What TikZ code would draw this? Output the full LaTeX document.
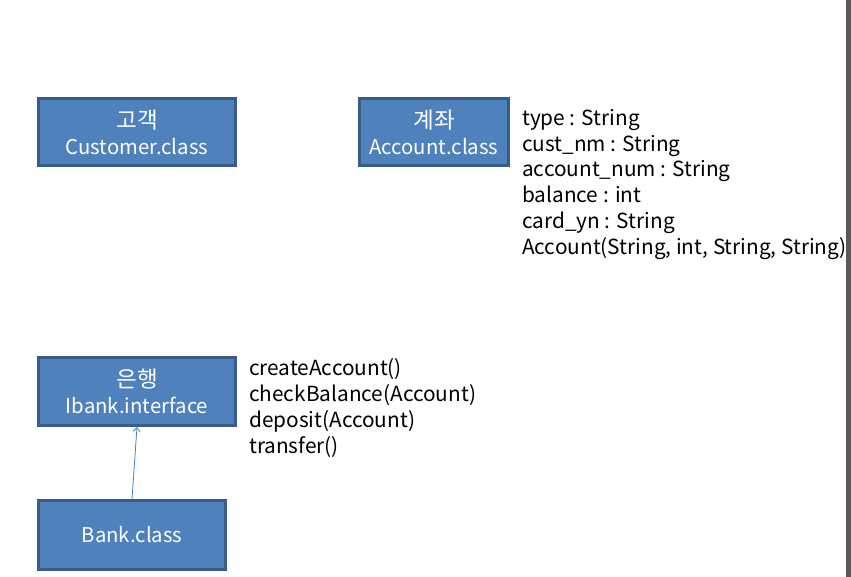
\documentclass[tikz,border=0pt]{standalone}
\usepackage{fontspec}
\setmainfont{Noto Sans CJK KR}
\usetikzlibrary{arrows.meta}
\definecolor{boxfill}{HTML}{4F81BD}
\definecolor{boxline}{HTML}{385D8A}
\definecolor{arrowcol}{HTML}{4A7EBB}
\definecolor{edgebar}{HTML}{595959}
\newcommand{\kortitle}[1]{{\fontsize{22.5}{26}\selectfont #1}}
\begin{document}
\begin{tikzpicture}[x=1pt,y=-1pt,
  umlbox/.style={draw=boxline, line width=3pt, fill=boxfill, text=white,
    font=\fontsize{20.3}{26}\selectfont, align=center, inner sep=0pt},
  memberlist/.style={font=\fontsize{20.8}{26}\selectfont, align=left, inner sep=0pt, anchor=base west, text=black}]
\useasboundingbox (0,0) rectangle (851,577);
\fill[white] (0,0) rectangle (851,577);
\node[umlbox, minimum width=197pt, minimum height=67pt] (customer) at (137,132) {\kortitle{고객}\\Customer.class};
\node[umlbox, minimum width=149pt, minimum height=67pt] (account) at (434,132) {\kortitle{계좌}\\Account.class};
\node[umlbox, minimum width=197pt, minimum height=68pt] (ibank) at (137,391.5) {\kortitle{은행}\\Ibank.interface};
\node[umlbox, minimum width=187pt, minimum height=69pt] (bank) at (132,535) {Bank.class};
\node[memberlist] (attrs) at (522,255) {type : String\\cust\_nm : String\\account\_num : String\\balance : int\\card\_yn : String\\Account(String, int, String, String)};
\node[memberlist] (methods) at (249,453) {createAccount()\\checkBalance(Account)\\deposit(Account)\\transfer()};
\draw[arrowcol, line width=0.8pt, -{Straight Barb[length=4pt,width=7pt]}] (bank.north) -- (ibank.south);
\fill[edgebar] (846,0) rectangle (851,577);
\end{tikzpicture}
\end{document}
